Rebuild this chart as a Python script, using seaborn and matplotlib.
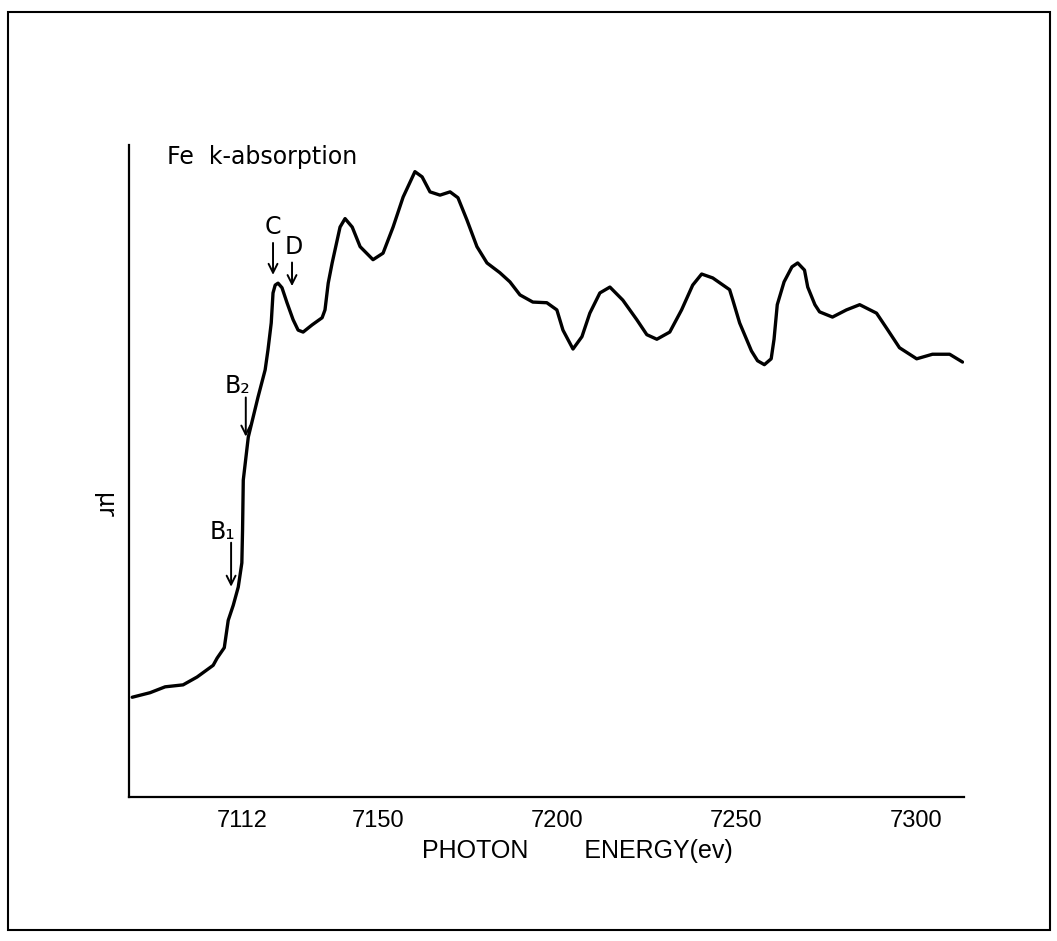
import numpy as np
import pandas as pd
import matplotlib
matplotlib.use("Agg")
import matplotlib.pyplot as plt
from matplotlib.patches import Rectangle
import seaborn as sns

# Fe K-edge absorption curve
energy = [7081.4, 7086.4, 7090.6, 7095.6, 7099.5, 7104.0, 7105.1, 7107.1, 7108.2, 7109.6,
          7111.0, 7112.0, 7112.2, 7112.4, 7113.8, 7116.5, 7118.5, 7119.3, 7120.2, 7120.7,
          7121.3, 7122.1, 7123.2, 7124.6, 7126.3, 7127.7, 7129.1, 7131.6, 7134.4, 7135.2,
          7136.1, 7137.2, 7138.0, 7139.4, 7140.8, 7142.8, 7145.0, 7148.6, 7151.4, 7154.2,
          7157.0, 7160.3, 7162.3, 7164.5, 7167.3, 7170.1, 7172.3, 7174.8, 7177.6, 7180.4,
          7184.0, 7186.8, 7189.6, 7193.2, 7197.1, 7199.9, 7201.6, 7204.4, 7206.9, 7209.1,
          7211.9, 7214.7, 7218.3, 7222.2, 7225.0, 7227.8, 7231.4, 7234.7, 7237.8, 7240.3,
          7243.4, 7248.1, 7249.0, 7250.9, 7254.2, 7255.9, 7257.8, 7259.7, 7260.5, 7261.4,
          7263.3, 7265.5, 7267.1, 7269.0, 7269.9, 7271.9, 7273.2, 7276.8, 7280.7, 7284.4,
          7289.1, 7291.9, 7295.5, 7300.3, 7304.7, 7309.5, 7313.1]
mu_r = [1.53, 1.60, 1.69, 1.72, 1.84, 2.02, 2.13, 2.29, 2.71, 2.94,
        3.22, 3.59, 4.10, 4.86, 5.52, 6.13, 6.55, 6.86, 7.27, 7.73,
        7.85, 7.88, 7.81, 7.58, 7.32, 7.16, 7.13, 7.24, 7.35, 7.47,
        7.88, 8.19, 8.39, 8.74, 8.87, 8.74, 8.44, 8.24, 8.34, 8.74,
        9.20, 9.59, 9.51, 9.28, 9.23, 9.28, 9.19, 8.85, 8.44, 8.19,
        8.04, 7.90, 7.70, 7.59, 7.58, 7.47, 7.16, 6.87, 7.06, 7.42,
        7.73, 7.82, 7.62, 7.32, 7.09, 7.02, 7.13, 7.47, 7.85, 8.02,
        7.96, 7.78, 7.62, 7.27, 6.84, 6.69, 6.63, 6.72, 7.02, 7.55,
        7.90, 8.13, 8.19, 8.08, 7.82, 7.55, 7.44, 7.36, 7.47, 7.55,
        7.42, 7.19, 6.89, 6.72, 6.79, 6.79, 6.67]

xticks = [7112, 7150, 7200, 7250, 7300]

# edge features marked with arrows
ann_labels = ["B\u2081", "B\u2082", "C", "D"]
ann_energy = [7109.0, 7113.1, 7120.7, 7126.0]

df = pd.DataFrame({"energy": energy, "mu_r": mu_r})

sns.set_theme(style="white")
plt.rcParams["font.family"] = ["DejaVu Sans"]
plt.rcParams["text.color"] = "black"
plt.rcParams["axes.labelcolor"] = "black"
tick_font = ["Liberation Sans", "DejaVu Sans"]

fig = plt.figure(figsize=(10.57, 9.41), dpi=100)
ax = fig.add_axes([0.122, 0.153, 0.790, 0.693])

sns.lineplot(data=df, x="energy", y="mu_r", color="black", lw=2.4,
             estimator=None, sort=False, ax=ax)
ax.lines[0].set_solid_joinstyle("round")

ax.set_xlim(7080.5, 7313.5)
ax.set_ylim(0, 10)
sns.despine(ax=ax)
for s in ["left", "bottom"]:
    ax.spines[s].set_color("black")
    ax.spines[s].set_linewidth(1.6)

ax.set_xticks(xticks)
ax.set_xticklabels([str(t) for t in xticks], fontsize=17, family=tick_font)
ax.tick_params(axis="x", direction="in", length=15, width=1.3, pad=9, colors="black")
ax.set_yticks([])

ax.set_xlabel("PHOTON        ENERGY(ev)", fontsize=18, family=tick_font)
ax.xaxis.set_label_coords(0.537, -0.064)
ax.set_ylabel("")
ax.text(-0.030, 0.448, "\u03bcr", transform=ax.transAxes, rotation=270,
        ha="center", va="center", fontsize=17)

ax.text(0.0455, 0.982, "Fe  k-absorption", transform=ax.transAxes,
        ha="left", va="center", fontsize=17)

# vertical arrows: (arrow start above curve pt, gap to curve pt, text dx pt, text dy pt)
arrow_geom = [(49.7, 18, -6.5, 57.6), (44, 15.8, -6, 52), (36, 13, 0, 47.5), (39, 22, 1.5, 50)]
for lab, e, (start, gap, dx, dy) in zip(ann_labels, ann_energy, arrow_geom):
    y = np.interp(e, energy, mu_r)
    ax.annotate("", xy=(e, y), xytext=(0, start), textcoords="offset points",
                arrowprops=dict(arrowstyle="->", color="black", lw=1.4,
                                shrinkA=0, shrinkB=gap, mutation_scale=16))
    ax.annotate(lab, xy=(e, y), xytext=(dx, dy), textcoords="offset points",
                ha="center", va="center", fontsize=17)

# border of the scanned page
fig.add_artist(Rectangle((0.0076, 0.0117), 0.9858, 0.9756, transform=fig.transFigure,
                         fill=False, edgecolor="black", lw=1.5))

fig.savefig("out.png", dpi=100, facecolor="white")
